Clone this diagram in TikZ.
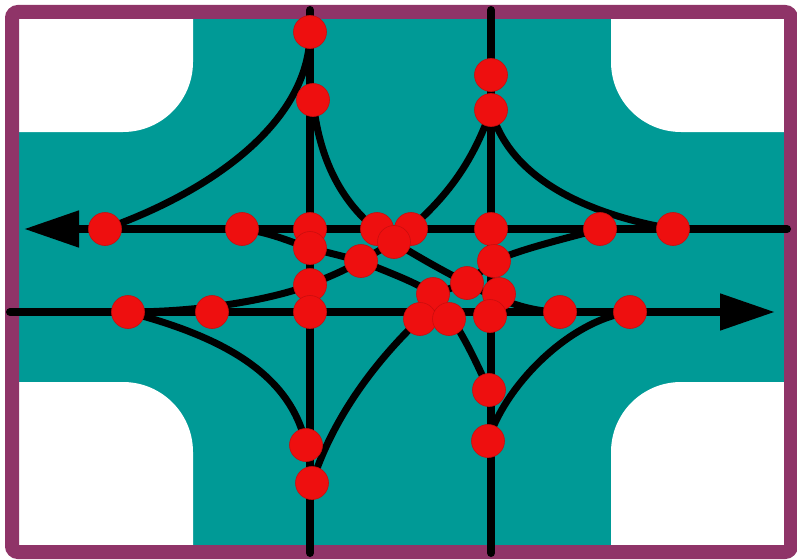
\documentclass[tikz,border=0pt]{standalone}
\usetikzlibrary{backgrounds,arrows.meta}
\definecolor{road}{HTML}{009A96}
\definecolor{frameC}{HTML}{8F3468}
\definecolor{dotC}{HTML}{EE0F0F}
\tikzset{
  dot/.style={circle,fill=dotC,draw=dotC!85!black,line width=0.6pt,minimum size=33pt,inner sep=0pt},
  lane/.style={draw=black,line width=8pt,line cap=round},
  arrowlane/.style={lane,-{Triangle[length=55pt,width=35pt]}},
  curvelane/.style={draw=black,line width=7pt,line cap=round},
  corner/.style={fill=white,draw=none}
}
\begin{document}
\begin{tikzpicture}[x=1pt,y=-1pt]
\useasboundingbox (0,0) rectangle (797,559);
\coordinate (vat) at (310,10);\coordinate (vab) at (310,553);
\coordinate (vbt) at (491,10);\coordinate (vbb) at (491,553);
\coordinate (hae) at (787,229);\coordinate (hat) at (24,229);
\coordinate (hbs) at (10,312);\coordinate (hbt) at (775,312);
\foreach \n/\x/\y in {a/310/32,b/313/100,c/491/75,d/491/110,e/105/229,f/242/229,g/310/229,h/310/248,i/377/229,j/411/229,k/394/242,l/491/229,m/600/229,n/673/229,o/361/261,p/494/261,q/467/283,r/499/294,s/433/294,t/310/285,u/310/312,v/128/312,w/212/312,x/420/319,y/449/319,z/490/316,aa/560/312,ab/630/312,ac/489/390,ad/488/441,ae/306/445,af/312/483}
  {\node[dot] (\n) at (\x,\y) {};}
\begin{scope}[on background layer]
  \fill[road] (12,12) rectangle (791,552);
  \fill[corner] (19,19) -- (193,19) -- (193,62) arc[start angle=0,end angle=90,radius=70] -- (19,132) -- cycle;
  \fill[corner] (785,19) -- (611,19) -- (611,62) arc[start angle=180,end angle=90,radius=70] -- (785,132) -- cycle;
  \fill[corner] (19,545) -- (193,545) -- (193,452) arc[start angle=0,end angle=-90,radius=70] -- (19,382) -- cycle;
  \fill[corner] (785,545) -- (611,545) -- (611,452) arc[start angle=180,end angle=270,radius=70] -- (785,382) -- cycle;
  \draw[frameC,line width=14pt,rounded corners=6pt] (12,12) rectangle (791,552);
  \draw[lane] (vat) -- (vab);
  \draw[lane] (vbt) -- (vbb);
  \draw[arrowlane] (hae) -- (hat);
  \draw[arrowlane] (hbs) -- (hbt);
  \draw[curvelane] (a.center) .. controls (310,120) and (215,190) .. (e.center);
  \draw[curvelane] (d.center) .. controls (510,180) and (590,215) .. (n.center);
  \draw[curvelane] (v.center) .. controls (215,335) and (290,370) .. (ae.center);
  \draw[curvelane] (ad.center) .. controls (505,385) and (570,320) .. (ab.center);
  \draw[curvelane] (b.center) .. controls (320,170) and (350,215) .. (k.center)
     .. controls (420,258) and (445,272) .. (q.center)
     .. controls (490,296) and (525,312) .. (aa.center) -- (ab.center);
  \draw[curvelane] (f.center) .. controls (270,232) and (290,242) .. (h.center)
     -- (o.center) .. controls (395,275) and (415,282) .. (s.center)
     .. controls (460,325) and (475,360) .. (ac.center);
  \draw[curvelane] (d.center) .. controls (470,170) and (440,205) .. (k.center)
     -- (o.center) .. controls (340,273) and (325,278) .. (t.center)
     .. controls (270,300) and (200,312) .. (v.center);
  \draw[curvelane] (m.center) .. controls (560,240) and (525,248) .. (p.center)
     -- (q.center) -- (s.center) -- (x.center)
     .. controls (385,352) and (335,410) .. (af.center);
\end{scope}
\end{tikzpicture}
\end{document}
